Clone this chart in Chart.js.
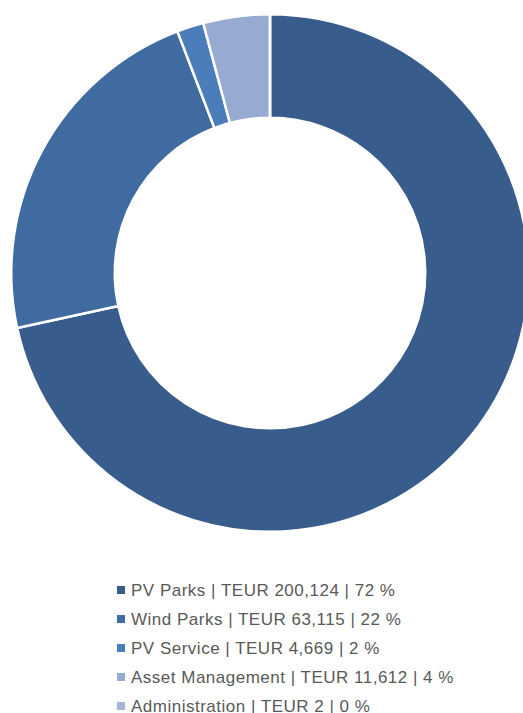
<!DOCTYPE html>
<html>
<head>
<meta charset="utf-8">
<script src="https://cdn.jsdelivr.net/npm/chart.js@4"></script>
<style>
  html, body { margin: 0; padding: 0; background: #fff; width: 523px; height: 713px; overflow: hidden; }
  #wrap { position: absolute; left: 0; top: 0; width: 540px; height: 546px; }
  #legend { position: absolute; left: 117px; top: 580px; margin: 0; padding: 0; list-style: none;
            font-family: "Liberation Sans", Arial, sans-serif; font-size: 17px; letter-spacing: 0.5px; color: #595959; }
  #legend li { height: 29px; line-height: 22px; white-space: nowrap; }
  #legend .sw { display: inline-block; width: 8px; height: 8px; margin-right: 6px; vertical-align: 2px; }
</style>
</head>
<body>
<div id="wrap"><canvas id="c"></canvas></div>
<ul id="legend"></ul>
<script>
// segments, in drawing order (clockwise from 12 o'clock)
const categories = ['PV Parks', 'Wind Parks', 'PV Service', 'Asset Management', 'Administration'];
const values = [200124, 63115, 4669, 11612, 2];
const shares = [72, 22, 2, 4, 0];
const colors = ['#385C8B', '#3F6BA1', '#4A7DBA', '#97AAD1', '#A6B6DA'];

const fmt = n => n.toLocaleString('en-US');
const labels = categories.map((c, i) => `${c} | TEUR ${fmt(values[i])} | ${shares[i]} %`);

const chart = new Chart(document.getElementById('c'), {
  type: 'doughnut',
  data: {
    labels,
    datasets: [{ data: values, backgroundColor: colors, borderColor: '#fff', borderWidth: 2.5 }]
  },
  options: {
    responsive: true, maintainAspectRatio: false, animation: false,
    cutout: '60%',
    layout: { padding: { left: 10, right: 10, top: 13, bottom: 13 } },
    plugins: { legend: { display: false }, tooltip: { enabled: false } }
  }
});

// legend built from the chart's own label items, one per row
const items = chart.options.plugins.legend.labels.generateLabels(chart);
document.getElementById('legend').innerHTML = items.map(it =>
  `<li><span class="sw" style="background:${it.fillStyle}"></span>${it.text}</li>`).join('');
</script>
</body>
</html>
